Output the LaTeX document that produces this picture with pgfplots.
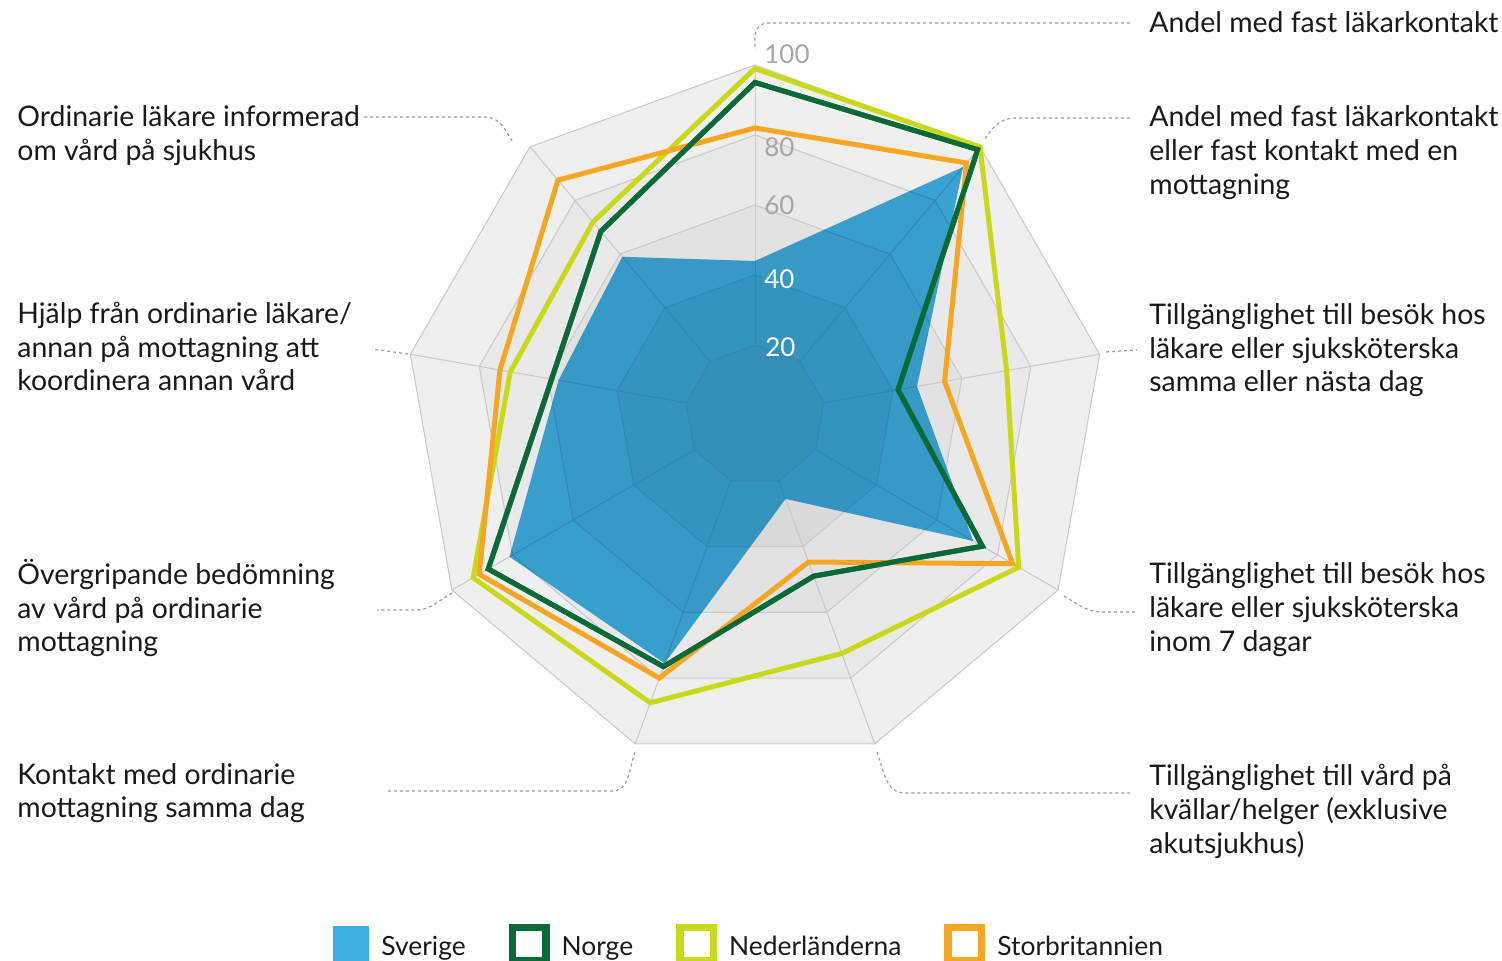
\documentclass[border=0pt]{standalone}
\usepackage{pgfplots}
\pgfplotsset{compat=1.18}
\usepackage{fontspec}
\setmainfont{Lato}
\definecolor{sv}{HTML}{3EADE0}
\definecolor{no}{HTML}{0A6A37}
\definecolor{nl}{HTML}{C8D91A}
\definecolor{uk}{HTML}{F5A623}
\definecolor{ga}{HTML}{EFEFEF}
\definecolor{gb}{HTML}{E9E9E9}
\definecolor{gc}{HTML}{E2E2E2}
\definecolor{gd}{HTML}{DADADA}
\definecolor{ge}{HTML}{D2D2D2}
\definecolor{gl}{HTML}{C8C8C8}
\definecolor{lead}{HTML}{9A9A9A}
\definecolor{num}{HTML}{A6A6A6}
\definecolor{txt}{HTML}{1A1A1A}
\newcommand{\lf}{\fontsize{14.2}{17}\selectfont}
\newcommand{\ring}[2]{\addplot[fill=#2, draw=none, data cs=polar, forget plot] coordinates {(90,#1) (50,#1) (10,#1) (-30,#1) (-70,#1) (-110,#1) (-150,#1) (-190,#1) (-230,#1)} --cycle;}
\newcommand{\ringline}[1]{\addplot[gl, line width=0.5pt, data cs=polar, forget plot] coordinates {(90,#1) (50,#1) (10,#1) (-30,#1) (-70,#1) (-110,#1) (-150,#1) (-190,#1) (-230,#1)} --cycle;}
\newcommand{\spoke}[1]{\addplot[gl, line width=0.5pt, data cs=polar, forget plot] coordinates {(#1,20) (#1,100)};}
\newcommand{\lab}[3]{\node[anchor=base west, inner sep=0pt, font=\lf, text=txt] at (#1,#2) {#3};}
\newcommand{\num}[4]{\node[anchor=base west, inner sep=0pt, font=\fontsize{13}{15}\selectfont, text=#4] at (#1,#2) {#3};}
\begin{document}
\begin{tikzpicture}
\begin{axis}[hide axis, x=1.75pt, y=1.75pt,
  xmin=-215.7, xmax=213.4, ymin=-156, ymax=118.6, clip=false,
  legend columns=4,
  legend style={at={(axis cs:-120.57,-151.2)}, anchor=west, draw=none, fill=none,
    inner sep=0pt, font=\fontsize{13.2}{16}\selectfont, nodes={inner sep=0pt, text=txt},
    /tikz/every odd column/.append style={column sep=6pt},
    /tikz/every even column/.append style={column sep=21.5pt}},
  legend cell align=left]
\ring{100}{ga}
\ring{80}{gb}
\ring{60}{gc}
\ring{40}{gd}
\ring{20}{ge}
\ringline{100}\ringline{80}\ringline{60}\ringline{40}\ringline{20}
\spoke{90}\spoke{50}\spoke{10}\spoke{-30}\spoke{-70}\spoke{-110}\spoke{-150}\spoke{-190}\spoke{-230}
% Sverige
\addplot[fill=sv, draw=none, data cs=polar, blend mode=multiply,
  legend image code/.code={\fill[sv, blend mode=normal] (0pt,-7.3pt) rectangle (18pt,10.7pt);}]
  coordinates {(90,44) (50,92.5) (10,47) (-30,72) (-70,25.5) (-110,75.5) (-150,81) (-190,57) (-230,59)} --cycle;
\addlegendentry{Sverige}
% Norge
\addplot[no, line width=2.5pt, data cs=polar,
  legend image code/.code={\path (0pt,-7.3pt) rectangle (18pt,10.7pt); \draw[no, line width=2.5pt] (1.25pt,-6.05pt) rectangle (16.75pt,9.45pt);}]
  coordinates {(90,95) (50,99) (10,41.5) (-30,75) (-70,49) (-110,76.5) (-150,88) (-190,59) (-230,68.5)} --cycle;
\addlegendentry{Norge}
% Nederlanderna
\addplot[nl, line width=2.5pt, data cs=polar,
  legend image code/.code={\path (0pt,-7.3pt) rectangle (18pt,10.7pt); \draw[nl, line width=2.5pt] (1.25pt,-6.05pt) rectangle (16.75pt,9.45pt);}]
  coordinates {(90,99) (50,100) (10,73) (-30,87) (-70,72.5) (-110,87.5) (-150,93) (-190,71) (-230,72)} --cycle;
\addlegendentry{Nederländerna}
% Storbritannien
\addplot[uk, line width=2.5pt, data cs=polar,
  legend image code/.code={\path (0pt,-7.3pt) rectangle (18pt,10.7pt); \draw[uk, line width=2.5pt] (1.25pt,-6.05pt) rectangle (16.75pt,9.45pt);}]
  coordinates {(90,82) (50,94) (10,55) (-30,85) (-70,44.7) (-110,80) (-150,91) (-190,74) (-230,87.6)} --cycle;
\addlegendentry{Storbritannien}
% Norge again on top
\addplot[no, line width=2.5pt, data cs=polar, forget plot]
  coordinates {(90,95) (50,99) (10,41.5) (-30,75) (-70,49) (-110,76.5) (-150,88) (-190,59) (-230,68.5)} --cycle;
\coordinate (c) at (axis cs:0,0);
\end{axis}
\begin{scope}[shift={(c)}, xshift=-377.5pt, yshift=207.5pt, x=0.5pt, y=-0.5pt]
% radial numbers
\num{764}{64}{100}{num}
\num{764}{157}{80}{num}
\num{764}{215}{60}{num}
\num{764}{289}{40}{white}
\num{765}{357}{20}{white}
% leaders
\begin{scope}[lead, line width=0.6pt, dash pattern=on 1.5pt off 1.5pt]
\draw (1130,23) -- (768,23) to[out=180,in=90] (755,36) -- (755,50);
\draw (1130,118) -- (1015,118) to[out=180,in=60] (984,141);
\draw (1106,352) -- (1137,350);
\draw (1064,596) to[out=-30,in=180] (1103,612) -- (1137,612);
\draw (877,752) to[out=-70,in=180] (905,793) -- (1130,793);
\draw (635,752) to[out=-110,in=0] (612,791) -- (385,791);
\draw (452,593) to[out=210,in=0] (415,610) -- (377,610);
\draw (408,354) -- (372,349);
\draw (512,141) to[out=120,in=0] (485,117) -- (362,117);
\end{scope}
% right labels
\lab{1149}{33}{Andel med fast läkarkontakt}
\lab{1149}{127}{Andel med fast läkarkontakt}
\lab{1149}{161}{eller fast kontakt med en}
\lab{1149}{195}{mottagning}
\lab{1149}{325}{Tillgänglighet till besök hos}
\lab{1149}{359}{läkare eller sjuksköterska}
\lab{1149}{392}{samma eller nästa dag}
\lab{1149}{584}{Tillgänglighet till besök hos}
\lab{1149}{618}{läkare eller sjuksköterska}
\lab{1149}{652}{inom 7 dagar}
\lab{1149}{786}{Tillgänglighet till vård på}
\lab{1149}{820}{kvällar/helger (exklusive}
\lab{1149}{854}{akutsjukhus)}
% left labels
\lab{17}{127}{Ordinarie läkare informerad}
\lab{17}{161}{om vård på sjukhus}
\lab{17}{324}{Hjälp från ordinarie läkare/}
\lab{17}{358}{annan på mottagning att}
\lab{17}{391}{koordinera annan vård}
\lab{17}{585}{Övergripande bedömning}
\lab{17}{619}{av vård på ordinarie}
\lab{17}{652}{mottagning}
\lab{17}{785}{Kontakt med ordinarie}
\lab{17}{818}{mottagning samma dag}
\pgfresetboundingbox
\path (0,0) rectangle (1502,961);
\end{scope}
\end{tikzpicture}
\end{document}
